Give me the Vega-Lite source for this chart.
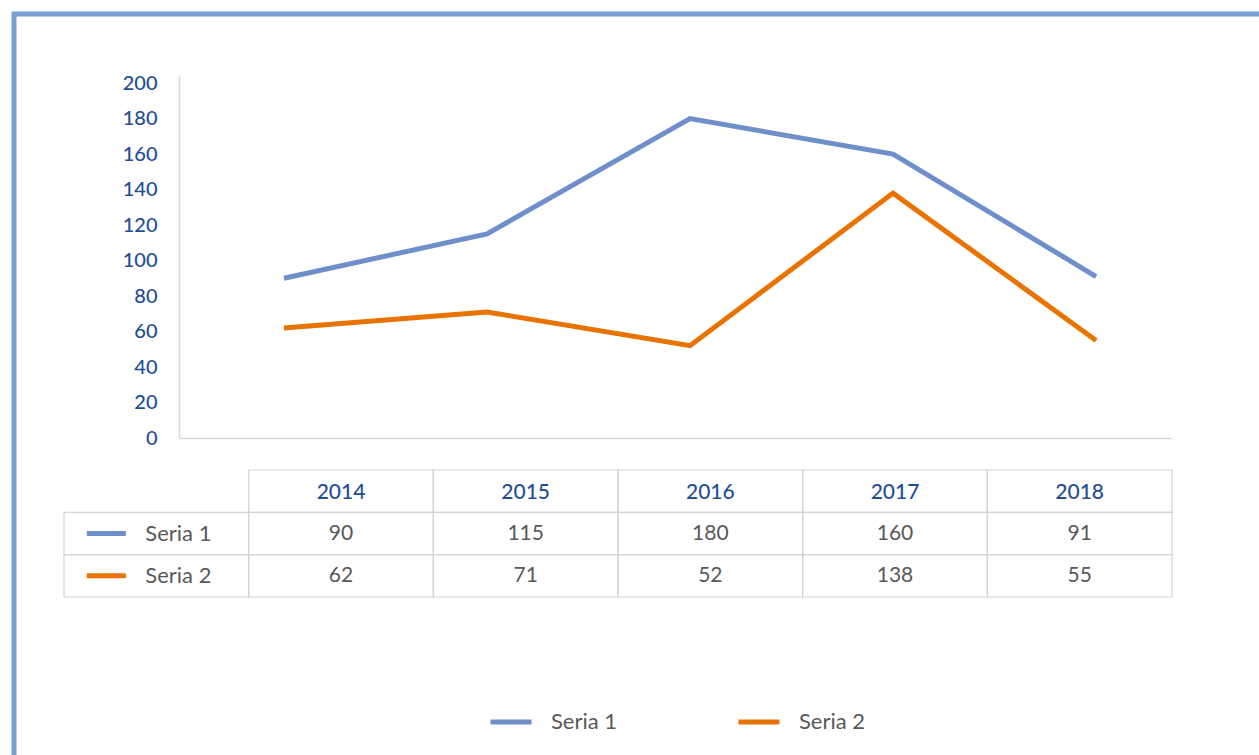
{
  "$schema": "https://vega.github.io/schema/vega-lite/v6.json",
  "width": 1300,
  "height": 800,
  "autosize": {"type": "none"},
  "padding": {"left": 14, "top": 14, "right": 0, "bottom": 0},
  "background": "white",
  "config": {
    "view": {"stroke": "#7b9fd2", "strokeWidth": 5},
    "font": "Lato",
    "text": {"font": "Lato"}
  },
  "datasets": {
    "main": [
      {"year": 2014, "series": "Seria 1", "value": 90},
      {"year": 2015, "series": "Seria 1", "value": 115},
      {"year": 2016, "series": "Seria 1", "value": 180},
      {"year": 2017, "series": "Seria 1", "value": 160},
      {"year": 2018, "series": "Seria 1", "value": 91},
      {"year": 2014, "series": "Seria 2", "value": 62},
      {"year": 2015, "series": "Seria 2", "value": 71},
      {"year": 2016, "series": "Seria 2", "value": 52},
      {"year": 2017, "series": "Seria 2", "value": 138},
      {"year": 2018, "series": "Seria 2", "value": 55}
    ]
  },
  "data": {"name": "main"},
  "resolve": {
    "scale": {"x": "independent", "y": "independent", "color": "shared"},
    "axis": {"x": "independent", "y": "independent"}
  },
  "layer": [
    {
      "mark": {"type": "line", "strokeWidth": 5, "strokeCap": "butt", "strokeJoin": "miter"},
      "encoding": {
        "x": {
          "field": "year", "type": "quantitative",
          "scale": {"domain": [2013.483, 2018.374], "range": [165, 1158], "nice": false, "zero": false},
          "axis": {"orient": "bottom", "offset": -376, "labels": false, "ticks": false, "grid": false, "title": null, "domainColor": "#d9d9d9", "domainWidth": 1.5}
        },
        "y": {
          "field": "value", "type": "quantitative",
          "scale": {"domain": [0, 204], "range": [424, 62], "nice": false},
          "axis": {"orient": "left", "offset": -165, "values": [0, 20, 40, 60, 80, 100, 120, 140, 160, 180, 200], "ticks": false, "tickSize": 0, "grid": false, "title": null, "domainColor": "#d9d9d9", "domainWidth": 1.5, "labelColor": "#1f4e96", "labelFontSize": 20, "labelFontWeight": 500, "labelPadding": 22, "labelFont": "Lato"}
        },
        "color": {
          "field": "series", "type": "nominal",
          "scale": {"domain": ["Seria 1", "Seria 2"], "range": ["#6e8fc9", "#e97300"]},
          "legend": {"orient": "none", "legendX": 474, "legendY": 685, "direction": "horizontal", "title": null, "symbolType": "stroke", "symbolSize": 1681, "symbolStrokeWidth": 5, "labelFontSize": 22, "labelColor": "#595959", "labelOffset": 17, "columnPadding": 110, "labelFont": "Lato"}
        }
      }
    },
    {
      "mark": {"type": "rect", "fill": "transparent", "stroke": "#d4d4d4", "strokeWidth": 1.2},
      "encoding": {
        "x": {"field": "year", "type": "ordinal", "scale": {"type": "band", "domain": ["lbl", 2014, 2015, 2016, 2017, 2018], "range": [50, 1158], "paddingInner": 0, "paddingOuter": 0}, "axis": null},
        "y": {"field": "series", "type": "nominal", "scale": {"type": "band", "domain": ["h", "Seria 1", "Seria 2"], "range": [456, 583], "paddingInner": 0, "paddingOuter": 0}, "axis": null}
      }
    },
    {
      "transform": [{"aggregate": [], "groupby": ["year"]}],
      "mark": {"type": "rect", "fill": "transparent", "stroke": "#d4d4d4", "strokeWidth": 1.2},
      "encoding": {
        "x": {"field": "year", "type": "ordinal", "scale": {"type": "band", "domain": ["lbl", 2014, 2015, 2016, 2017, 2018], "range": [50, 1158], "paddingInner": 0, "paddingOuter": 0}, "axis": null},
        "y": {"datum": "h", "type": "nominal", "scale": {"type": "band", "domain": ["h", "Seria 1", "Seria 2"], "range": [456, 583], "paddingInner": 0, "paddingOuter": 0}, "axis": null}
      }
    },
    {
      "transform": [{"aggregate": [], "groupby": ["series"]}],
      "mark": {"type": "rect", "fill": "transparent", "stroke": "#d4d4d4", "strokeWidth": 1.2},
      "encoding": {
        "x": {"datum": "lbl", "type": "ordinal", "scale": {"type": "band", "domain": ["lbl", 2014, 2015, 2016, 2017, 2018], "range": [50, 1158], "paddingInner": 0, "paddingOuter": 0}, "axis": null},
        "y": {"field": "series", "type": "nominal", "scale": {"type": "band", "domain": ["h", "Seria 1", "Seria 2"], "range": [456, 583], "paddingInner": 0, "paddingOuter": 0}, "axis": null}
      }
    },
    {
      "mark": {"type": "text", "fontSize": 21, "color": "#595959", "font": "Lato", "baseline": "middle"},
      "encoding": {
        "x": {"field": "year", "type": "ordinal", "scale": {"type": "band", "domain": ["lbl", 2014, 2015, 2016, 2017, 2018], "range": [50, 1158], "paddingInner": 0, "paddingOuter": 0}, "axis": null},
        "y": {"field": "series", "type": "nominal", "scale": {"type": "band", "domain": ["h", "Seria 1", "Seria 2"], "range": [456, 583], "paddingInner": 0, "paddingOuter": 0}, "axis": null},
        "text": {"field": "value", "type": "quantitative"}
      }
    },
    {
      "transform": [{"aggregate": [], "groupby": ["year"]}],
      "mark": {"type": "text", "fontSize": 21, "fontWeight": 500, "color": "#1f4e96", "font": "Lato", "baseline": "middle", "dy": 2},
      "encoding": {
        "x": {"field": "year", "type": "ordinal", "scale": {"type": "band", "domain": ["lbl", 2014, 2015, 2016, 2017, 2018], "range": [50, 1158], "paddingInner": 0, "paddingOuter": 0}, "axis": null},
        "y": {"datum": "h", "type": "nominal", "scale": {"type": "band", "domain": ["h", "Seria 1", "Seria 2"], "range": [456, 583], "paddingInner": 0, "paddingOuter": 0}, "axis": null},
        "text": {"field": "year", "type": "ordinal"}
      }
    },
    {
      "transform": [{"aggregate": [], "groupby": ["series"]}],
      "mark": {"type": "text", "fontSize": 22, "color": "#595959", "font": "Lato", "baseline": "middle", "align": "left", "xOffset": -11},
      "encoding": {
        "x": {"datum": "lbl", "type": "ordinal", "scale": {"type": "band", "domain": ["lbl", 2014, 2015, 2016, 2017, 2018], "range": [50, 1158], "paddingInner": 0, "paddingOuter": 0}, "axis": null},
        "y": {"field": "series", "type": "nominal", "scale": {"type": "band", "domain": ["h", "Seria 1", "Seria 2"], "range": [456, 583], "paddingInner": 0, "paddingOuter": 0}, "axis": null},
        "text": {"field": "series", "type": "nominal"}
      }
    },
    {
      "transform": [{"aggregate": [], "groupby": ["series"]}],
      "mark": {"type": "point", "shape": "stroke", "filled": false, "strokeWidth": 5, "size": 1521, "opacity": 1, "xOffset": -50},
      "encoding": {
        "x": {"datum": "lbl", "type": "ordinal", "scale": {"type": "band", "domain": ["lbl", 2014, 2015, 2016, 2017, 2018], "range": [50, 1158], "paddingInner": 0, "paddingOuter": 0}, "axis": null},
        "y": {"field": "series", "type": "nominal", "scale": {"type": "band", "domain": ["h", "Seria 1", "Seria 2"], "range": [456, 583], "paddingInner": 0, "paddingOuter": 0}, "axis": null},
        "color": {"field": "series", "type": "nominal", "legend": null}
      }
    }
  ]
}
